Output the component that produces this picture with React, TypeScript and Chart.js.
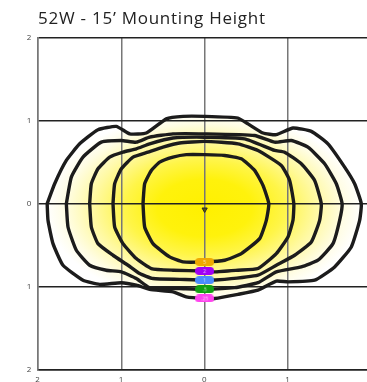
import React, { useEffect, useRef } from "react";
import { Chart, registerables } from "chart.js";

Chart.register(...registerables);

const TITLE = "52W - 15’ Mounting Height";
const X_TICKS = [-2, -1, 0, 1, 2];
const Y_TICKS = [-2, -1, 0, 1, 2];

// Isoline contours (x, y in mounting heights), innermost first
const CONTOUR_1: [number, number][] = [
  [-0.74, 0], [-0.72, 0.24], [-0.64, 0.4], [-0.54, 0.5], [-0.38, 0.56], [-0.22, 0.59], [0, 0.59],
  [0.24, 0.58], [0.44, 0.54], [0.6, 0.4], [0.7, 0.22], [0.77, 0], [0.74, -0.2], [0.66, -0.42],
  [0.44, -0.6], [0.24, -0.68], [0, -0.7], [-0.26, -0.7], [-0.42, -0.64], [-0.62, -0.48],
  [-0.72, -0.28], [-0.74, 0],
];
const CONTOUR_2: [number, number][] = [
  [-1.1, 0], [-1.08, 0.24], [-1.0, 0.42], [-0.86, 0.56], [-0.68, 0.62], [-0.5, 0.68], [-0.3, 0.73],
  [0, 0.75], [0.4, 0.72], [0.64, 0.64], [0.92, 0.46], [1.02, 0.28], [1.07, 0], [1.06, -0.2],
  [1.0, -0.4], [0.86, -0.6], [0.64, -0.78], [0.4, -0.8], [0.12, -0.82], [0, -0.81], [-0.38, -0.8],
  [-0.64, -0.78], [-0.82, -0.66], [-0.98, -0.48], [-1.08, -0.28], [-1.1, 0],
];
const CONTOUR_3: [number, number][] = [
  [-1.38, 0], [-1.36, 0.24], [-1.28, 0.42], [-1.14, 0.56], [-0.98, 0.62], [-0.82, 0.66],
  [-0.66, 0.72], [-0.38, 0.79], [0, 0.8], [0.48, 0.78], [0.84, 0.64], [0.96, 0.62], [1.16, 0.48],
  [1.32, 0.28], [1.4, 0], [1.38, -0.2], [1.28, -0.46], [1.08, -0.62], [0.86, -0.74], [0.64, -0.86],
  [0.24, -0.91], [0, -0.92], [-0.3, -0.91], [-0.62, -0.9], [-0.78, -0.84], [-0.92, -0.74],
  [-1.1, -0.62], [-1.28, -0.48], [-1.36, -0.28], [-1.38, 0],
];
const CONTOUR_4: [number, number][] = [
  [-1.66, 0], [-1.6, 0.32], [-1.46, 0.56], [-1.24, 0.74], [-1.0, 0.76], [-0.82, 0.74], [-0.66, 0.8],
  [-0.38, 0.84], [0, 0.84], [0.6, 0.82], [0.84, 0.74], [1.04, 0.76], [1.24, 0.68], [1.44, 0.48],
  [1.58, 0.24], [1.65, 0], [1.62, -0.2], [1.54, -0.48], [1.36, -0.68], [1.16, -0.76], [0.86, -0.82],
  [0.64, -0.95], [0.36, -1.01], [0, -1.03], [-0.3, -1.02], [-0.66, -1.01], [-0.82, -0.9],
  [-1.0, -0.82], [-1.18, -0.8], [-1.38, -0.74], [-1.54, -0.56], [-1.64, -0.28], [-1.66, 0],
];
const CONTOUR_5: [number, number][] = [
  [-1.89, 0], [-1.8, 0.24], [-1.66, 0.52], [-1.5, 0.72], [-1.28, 0.89], [-1.06, 0.93], [-0.9, 0.84],
  [-0.7, 0.85], [-0.46, 1.02], [-0.26, 1.05], [0, 1.05], [0.4, 1.03], [0.52, 0.96], [0.7, 0.85],
  [0.86, 0.83], [1.06, 0.91], [1.28, 0.87], [1.48, 0.72], [1.68, 0.44], [1.8, 0.24], [1.88, 0],
  [1.86, -0.2], [1.76, -0.52], [1.56, -0.76], [1.32, -0.92], [1.0, -0.94], [0.86, -0.93],
  [0.64, -1.04], [0.4, -1.09], [0.12, -1.14], [0, -1.14], [-0.22, -1.12], [-0.38, -1.06],
  [-0.66, -1.03], [-0.82, -0.98], [-1.0, -0.95], [-1.26, -0.97], [-1.46, -0.92], [-1.7, -0.74],
  [-1.82, -0.48], [-1.88, -0.2], [-1.89, 0],
];
const CONTOURS = [CONTOUR_1, CONTOUR_2, CONTOUR_3, CONTOUR_4, CONTOUR_5];

// Isoline value badges along x = 0
const MARKER_Y = [-0.7, -0.81, -0.92, -1.03, -1.14];
const MARKER_LABELS = ["5", "2", "1", ".5", ".25"];
const MARKER_COLORS = ["#f0a800", "#a000f5", "#4a8cff", "#12a012", "#ff44ee"];

// Luminaire position marker
const LUMINAIRE: [number, number] = [0, -0.07];

// Glow (illuminance shading) centre and radii in data units
const GLOW_CENTER: [number, number] = [0, -0.05];
const GLOW_RADIUS: [number, number] = [1.9, 1.15];

function makePill(color: string, label: string): HTMLCanvasElement {
  const w = 19;
  const h = 8;
  const c = document.createElement("canvas");
  c.width = w;
  c.height = h;
  const g = c.getContext("2d")!;
  const r = 4;
  g.fillStyle = color;
  g.beginPath();
  g.moveTo(r, 0);
  g.lineTo(w - r, 0);
  g.arc(w - r, r, r, -Math.PI / 2, Math.PI / 2);
  g.lineTo(r, h);
  g.arc(r, r, r, Math.PI / 2, (3 * Math.PI) / 2);
  g.closePath();
  g.fill();
  g.fillStyle = "rgba(255,255,255,0.75)";
  g.font = "5px 'Open Sans'";
  g.textAlign = "center";
  g.textBaseline = "middle";
  g.fillText(label, w / 2, h / 2 + 0.3);
  return c;
}

const glowPlugin = {
  id: "glow",
  beforeDraw(chart: any) {
    const { ctx } = chart;
    const xs = chart.scales.x;
    const ys = chart.scales.y;
    ctx.save();
    ctx.beginPath();
    CONTOUR_5.forEach(([a, b], i) => {
      const px = xs.getPixelForValue(a);
      const py = ys.getPixelForValue(b);
      if (i === 0) ctx.moveTo(px, py);
      else ctx.lineTo(px, py);
    });
    ctx.closePath();
    ctx.clip();
    const cx = xs.getPixelForValue(GLOW_CENTER[0]);
    const cy = ys.getPixelForValue(GLOW_CENTER[1]);
    const rx = Math.abs(xs.getPixelForValue(GLOW_RADIUS[0]) - xs.getPixelForValue(0));
    const ry = Math.abs(ys.getPixelForValue(GLOW_RADIUS[1]) - ys.getPixelForValue(0));
    ctx.translate(cx, cy);
    ctx.scale(rx, ry);
    const grad = ctx.createRadialGradient(0, 0, 0, 0, 0, 1);
    grad.addColorStop(0, "#fff000");
    grad.addColorStop(0.3, "#fff20c");
    grad.addColorStop(0.5, "#fff548");
    grad.addColorStop(0.7, "#fff9a0");
    grad.addColorStop(0.88, "#fffde4");
    grad.addColorStop(1, "#ffffff");
    ctx.fillStyle = grad;
    ctx.fillRect(-3, -3, 6, 6);
    ctx.restore();
  },
};

// Wider tracking for the title text only
const titleSpacingPlugin = {
  id: "titleSpacing",
  beforeDraw(chart: any) {
    (chart.ctx as any).letterSpacing = "0.75px";
  },
  beforeDatasetsDraw(chart: any) {
    (chart.ctx as any).letterSpacing = "0px";
  },
};

export default function App() {
  const ref = useRef<HTMLCanvasElement | null>(null);

  useEffect(() => {
    if (!ref.current) return;
    Chart.defaults.font.family = "'Open Sans', sans-serif";

    const contourSets = CONTOURS.map((c) => ({
      type: "scatter" as const,
      data: c.map(([x, y]) => ({ x, y })),
      showLine: true,
      borderColor: "#1c1c1c",
      borderWidth: 3.4,
      pointRadius: 0,
      tension: 0.15,
      fill: false,
      borderJoinStyle: "round" as const,
      borderCapStyle: "round" as const,
    }));

    const chart = new Chart(ref.current, {
      type: "scatter",
      data: {
        datasets: [
          {
            data: MARKER_Y.map((y) => ({ x: 0, y })),
            pointStyle: MARKER_LABELS.map((l, i) => makePill(MARKER_COLORS[i], l)) as any,
            pointRadius: 5,
            showLine: false,
          },
          {
            data: [{ x: LUMINAIRE[0], y: LUMINAIRE[1] }],
            pointStyle: "triangle",
            rotation: 180,
            pointRadius: 3,
            backgroundColor: "#5a5a10",
            borderColor: "#2a2a2a",
            borderWidth: 1,
            showLine: false,
          },
          ...contourSets,
        ] as any,
      },
      options: {
        responsive: false,
        animation: false,
        events: [],
        layout: { padding: { left: 0, right: 18.7, top: 0, bottom: 10 } },
        plugins: {
          legend: { display: false },
          tooltip: { enabled: false },
          title: {
            display: true,
            text: TITLE,
            align: "start",
            fullSize: false,
            color: "#222",
            font: { family: "'Open Sans', sans-serif", size: 17, weight: "normal" },
            padding: { top: 9, bottom: 8 },
          },
        },
        scales: {
          x: {
            type: "linear",
            min: -2,
            max: 2,
            afterBuildTicks: (s: any) => {
              s.ticks = X_TICKS.map((v) => ({ value: v }));
            },
            afterFit: (s: any) => {
              s.height = 20;
            },
            ticks: {
              callback: (v: any) => String(Math.abs(Number(v))),
              font: { size: 8 },
              color: "#444",
              padding: 5,
              maxRotation: 0,
              autoSkip: false,
            },
            grid: { color: "#777", lineWidth: 1.5, drawTicks: false },
            border: { color: "#222", width: 1.5 },
          },
          y: {
            type: "linear",
            min: -2,
            max: 2,
            afterBuildTicks: (s: any) => {
              s.ticks = Y_TICKS.map((v) => ({ value: v }));
            },
            afterFit: (s: any) => {
              s.width = 38;
            },
            ticks: {
              callback: (v: any) => String(Math.abs(Number(v))),
              font: { size: 8 },
              color: "#444",
              padding: 6,
              autoSkip: false,
            },
            grid: { color: "#222", lineWidth: 1.5, drawTicks: false },
            border: { color: "#777", width: 1.5 },
          },
        },
      } as any,
      plugins: [glowPlugin, titleSpacingPlugin],
    });

    return () => chart.destroy();
  }, []);

  return (
    <div
      style={{
        position: "fixed",
        left: 0,
        top: 0,
        width: 367,
        height: 382,
        overflow: "hidden",
        background: "#fff",
      }}
    >
      <canvas ref={ref} width={390} height={400} style={{ display: "block", width: 390, height: 400 }} />
    </div>
  );
}
